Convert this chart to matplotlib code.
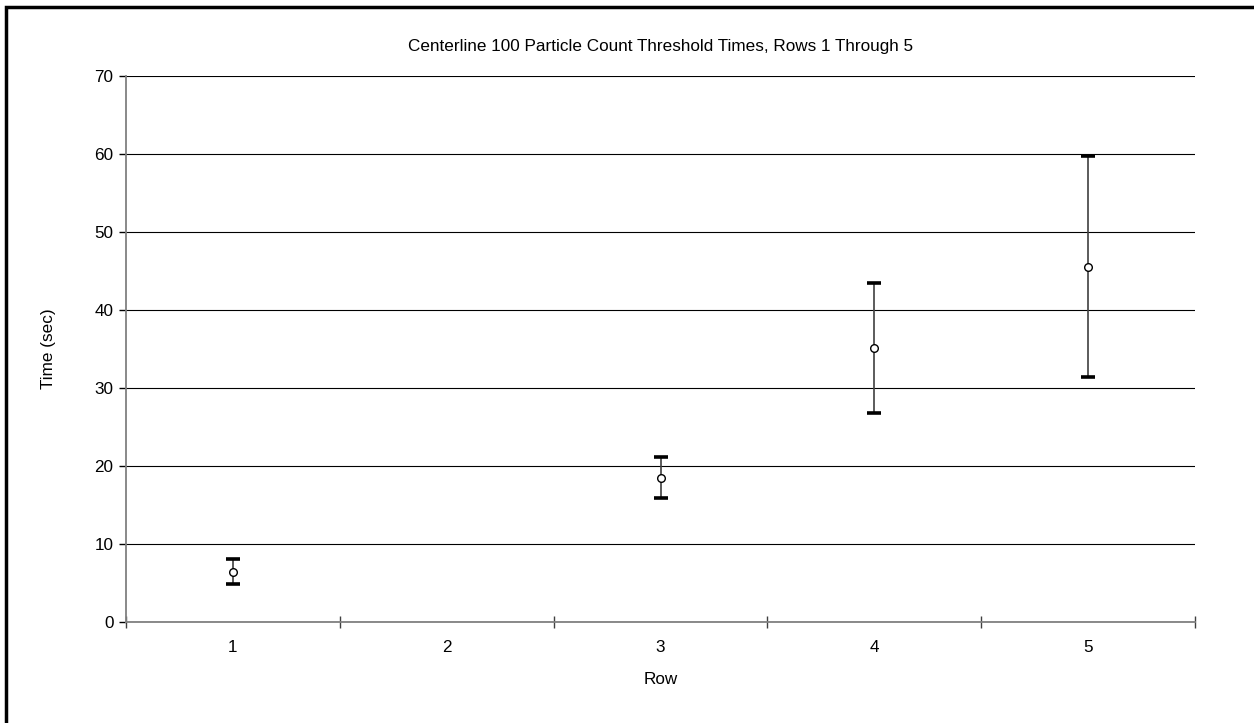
import matplotlib.pyplot as plt
from matplotlib.patches import Rectangle

plt.rcParams['font.family'] = ['Liberation Sans', 'DejaVu Sans']

# threshold times per row (row 2 has no data)
rows = [1, 3, 4, 5]
row_labels = ['1', '2', '3', '4', '5']
mean_time = [6.4, 18.5, 35.1, 45.5]
err_low = [1.5, 2.6, 8.3, 14.1]
err_high = [1.7, 2.6, 8.3, 14.3]

fig = plt.figure(figsize=(12.54, 7.23), dpi=100)
ax = fig.add_axes([0.1005, 0.1397, 0.8525, 0.7552])

# outer chart border (only top and left edges fall inside the image)
fig.patches.append(Rectangle((6 / 1254, -0.1), 1.2, 1 - 7 / 723 + 0.1,
                             transform=fig.transFigure, fill=False,
                             edgecolor='black', linewidth=2.5))

eb = ax.errorbar(rows, mean_time, yerr=[err_low, err_high], fmt='o',
                 color='#404040', ecolor='#404040', elinewidth=1.2,
                 capsize=4.8, capthick=2.6, markersize=5.5,
                 markerfacecolor='white', markeredgecolor='black',
                 markeredgewidth=1.0, zorder=3)
for cap in eb[1]:
    cap.set_markeredgecolor('black')
    cap.set_markeredgewidth(2.6)

fs = 12.3
ax.set_xlim(0.5, 5.5)
ax.set_ylim(0, 70)
ax.set_yticks(range(0, 71, 10))
ax.set_xticks(range(1, 6))
ax.set_xticklabels(row_labels)
ax.set_xticks([0.5, 1.5, 2.5, 3.5, 4.5, 5.5], minor=True)
ax.tick_params(axis='x', which='major', length=0, pad=13, labelsize=fs)
ax.tick_params(axis='x', which='minor', direction='inout', length=9,
               width=1, color='#404040')
ax.tick_params(axis='y', which='major', direction='out', length=5,
               width=1, color='black', labelsize=fs, pad=4)

ax.yaxis.grid(True, color='black', linewidth=0.8)
ax.set_axisbelow(True)
for side in ['top', 'right']:
    ax.spines[side].set_visible(False)
for side in ['left', 'bottom']:
    ax.spines[side].set_color('#808080')
    ax.spines[side].set_linewidth(1.3)

ax.set_title('Centerline 100 Particle Count Threshold Times, Rows 1 Through 5',
             fontsize=fs, pad=18)
ax.set_xlabel('Row', fontsize=fs, labelpad=12)
ax.set_ylabel('Time (sec)', fontsize=fs, labelpad=28)

fig.savefig('out.png', dpi=100)
